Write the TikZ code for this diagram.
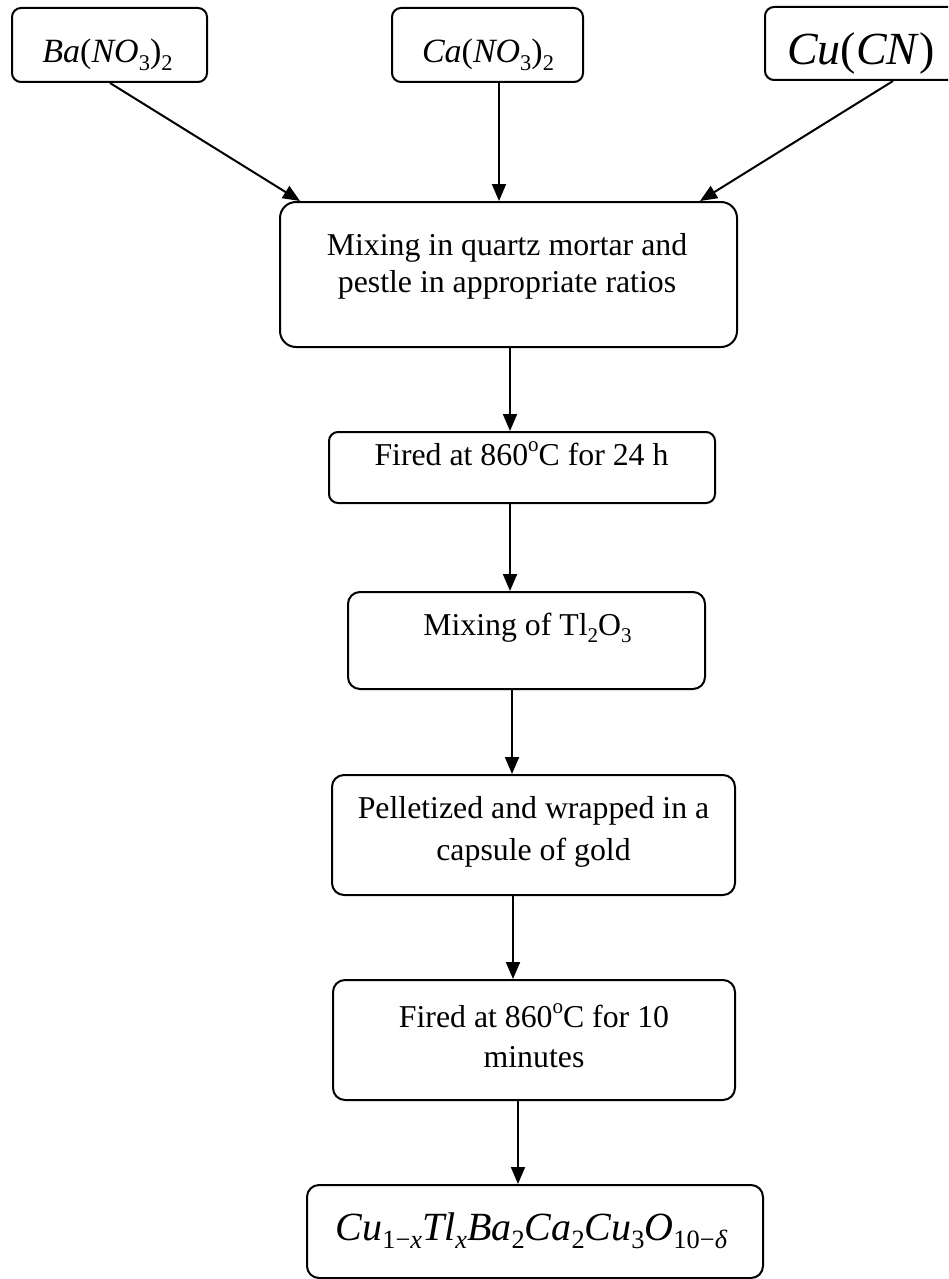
\documentclass[tikz,border=0pt]{standalone}
\usepackage{fontspec}
\setmainfont{Liberation Serif}
\usetikzlibrary{arrows.meta}
\newcommand\lowr[1]{\raisebox{-0.22em}{\scalebox{0.66}{#1}}}
\newcommand\highr[1]{\raisebox{0.42em}{\scalebox{0.66}{#1}}}
\begin{document}
\begin{tikzpicture}[x=1pt,y=-1pt,
  box/.style={draw, line width=2pt, rounded corners=9pt, inner sep=0pt},
  arr/.style={line width=2pt, -{Triangle[length=17pt,width=14pt]}},
  txt/.style={anchor=base, inner sep=0pt, font=\fontsize{31.8}{37}\selectfont}]
\useasboundingbox (0,0) rectangle (948,1279);
\clip (0,0) rectangle (948,1279);
\fill[white] (0,0) rectangle (948,1279);
% boxes
\node[box, minimum width=195pt, minimum height=74pt] (ba) at (109.5,45) {};
\node[box, minimum width=191pt, minimum height=74pt] (ca) at (487.5,45) {};
\node[box, minimum width=195pt, minimum height=73pt] (cu) at (862.5,43.5) {};
\node[box, rounded corners=16pt, minimum width=457pt, minimum height=145pt] (mix) at (508.5,274.5) {};
\node[box, minimum width=386pt, minimum height=71pt] (fire1) at (522,467.5) {};
\node[box, rounded corners=12pt, minimum width=357pt, minimum height=97pt] (tl) at (526.5,640.5) {};
\node[box, rounded corners=12pt, minimum width=403pt, minimum height=120pt] (pel) at (533.5,835) {};
\node[box, rounded corners=12pt, minimum width=402pt, minimum height=120pt] (fire2) at (534,1040) {};
\node[box, rounded corners=12pt, minimum width=456pt, minimum height=93pt] (fin) at (535,1231.5) {};
% texts
\node[txt, font=\fontsize{34}{38}\selectfont] (batx) at (107.5,63) {\textit{Ba}(\textit{NO}\lowr{3})\lowr{2}};
\node[txt, font=\fontsize{34}{38}\selectfont] (catx) at (488,63) {\textit{Ca}(\textit{NO}\lowr{3})\lowr{2}};
\node[txt, font=\fontsize{46}{50}\selectfont] (cutx) at (861,65) {\textit{Cu}(\textit{CN})};
\node[txt] (mixa) at (507,255) {Mixing in quartz mortar and};
\node[txt] (mixb) at (507,292) {pestle in appropriate ratios};
\node[txt] (fire1tx) at (521.5,465) {Fired at 860\highr{o}C for 24 h};
\node[txt] (tltx) at (527.5,635) {Mixing of Tl\lowr{2}O\lowr{3}};
\node[txt] (pela) at (533.5,818) {Pelletized and wrapped in a};
\node[txt] (pelb) at (533.5,860) {capsule of gold};
\node[txt] (fire2a) at (534,1027) {Fired at 860\highr{o}C for 10};
\node[txt] (fire2b) at (534,1067) {minutes};
\node[txt, font=\fontsize{40}{44}\selectfont] (fintx) at (531.5,1240) {\textit{Cu}\lowr{1−\textit{x}}\textit{Tl}\lowr{\textit{x}}\textit{Ba}\lowr{2}\textit{Ca}\lowr{2}\textit{Cu}\lowr{3}\textit{O}\lowr{10−\textit{δ}}};
% arrow x positions
\coordinate (xba) at (110,0);
\coordinate (xbat) at (300,0);
\coordinate (xca) at (499,0);
\coordinate (xcu) at (893,0);
\coordinate (xcut) at (700,0);
\coordinate (x1) at (510,0);
\coordinate (x2) at (510,0);
\coordinate (x3) at (512,0);
\coordinate (x4) at (513,0);
\coordinate (x5) at (518,0);
% connectors
\draw[arr] (ba.south -| xba) -- (mix.north -| xbat);
\draw[arr] (ca.south -| xca) -- (mix.north -| xca);
\draw[arr] (cu.south -| xcu) -- (mix.north -| xcut);
\draw[arr] (mix.south -| x1) -- (fire1.north -| x1);
\draw[arr] (fire1.south -| x2) -- (tl.north -| x2);
\draw[arr] (tl.south -| x3) -- (pel.north -| x3);
\draw[arr] (pel.south -| x4) -- (fire2.north -| x4);
\draw[arr] (fire2.south -| x5) -- (fin.north -| x5);
\end{tikzpicture}
\end{document}
